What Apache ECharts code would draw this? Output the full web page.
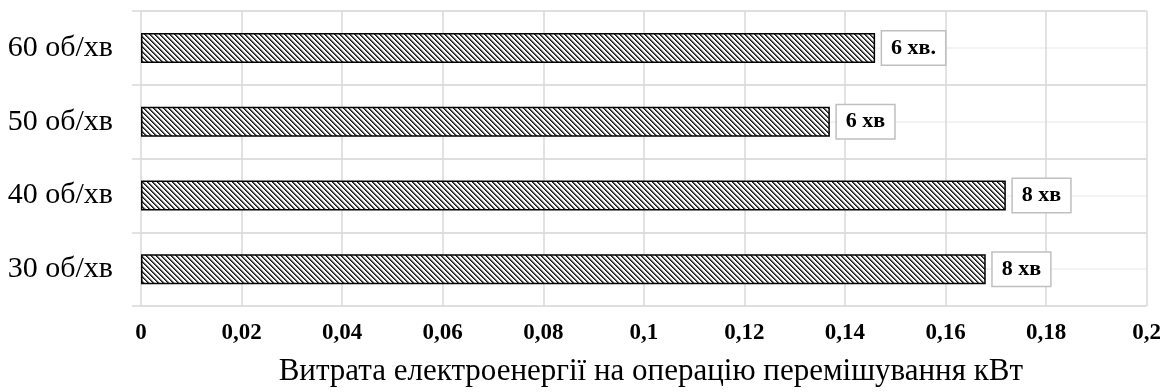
<!DOCTYPE html>
<html>
<head>
<meta charset="utf-8">
<script src="https://cdn.jsdelivr.net/npm/echarts@6/dist/echarts.min.js"></script>
<style>
    html, body { margin: 0; padding: 0; background: #fff; }
    #chart { width: 1164px; height: 392px; }
</style>
</head>
<body>
<div id="chart"></div>
<script>
'use strict';
// категорії (знизу вгору)
var categories = ['30 об/хв', '40 об/хв', '50 об/хв', '60 об/хв'];
// витрата електроенергії, кВт
var values = [0.168, 0.172, 0.137, 0.146];
// підписи тривалості
var durations = ['8 хв', '8 хв', '6 хв', '6 хв.'];
var xTicks = [0, 0.02, 0.04, 0.06, 0.08, 0.1, 0.12, 0.14, 0.16, 0.18, 0.2];

// штрихування для стовпців
function makeHatch() {
    var size = 10;
    var cv = document.createElement('canvas');
    cv.width = size;
    cv.height = size;
    var ctx = cv.getContext('2d');
    var img = ctx.createImageData(size, size);
    for (var y = 0; y < size; y++) {
        for (var x = 0; x < size; x++) {
            var k = ((x - y) % 5 + 5) % 5;
            var c = k === 0 ? 25 : (k === 1 ? 90 : (k === 2 ? 200 : 255));
            var i = (y * size + x) * 4;
            img.data[i] = c;
            img.data[i + 1] = c;
            img.data[i + 2] = c;
            img.data[i + 3] = 255;
        }
    }
    ctx.putImageData(img, 0, 0);
    return cv;
}

var serif = '"Liberation Serif", "Times New Roman", serif';
var chart = echarts.init(document.getElementById('chart'));

var option = {
    animation: false,
    grid: {
        left: 141,
        right: 17,
        top: 11,
        bottom: 84,
        containLabel: false
    },
    xAxis: {
        type: 'value',
        min: xTicks[0],
        max: xTicks[xTicks.length - 1],
        interval: 0.02,
        axisLine: { show: false },
        axisTick: { show: false },
        splitLine: { show: true, lineStyle: { color: '#d9d9d9', width: 1.5 } },
        axisLabel: {
            margin: 16,
            fontFamily: serif,
            fontWeight: 'bold',
            fontSize: 23,
            color: '#000',
            formatter: function (v) {
                return String(Math.round(v * 100) / 100).replace('.', ',');
            }
        },
        name: 'Витрата електроенергії на операцію перемішування кВт',
        nameLocation: 'middle',
        nameGap: 50,
        nameTextStyle: {
            fontFamily: serif,
            fontSize: 31,
            color: '#000',
            padding: [0, 0, 0, 14]
        }
    },
    yAxis: [{
            // світлі лінії по центру категорій
            type: 'value',
            min: 0,
            max: 8,
            interval: 1,
            axisLine: { show: false },
            axisTick: { show: false },
            axisLabel: { show: false },
            splitLine: { show: true, lineStyle: { color: '#efefef', width: 1.5 } }
        },
        {
            type: 'category',
            data: categories,
            position: 'left',
            axisLine: { show: false },
            axisTick: { show: true, length: 9, lineStyle: { color: '#d9d9d9', width: 1.5 } },
            splitLine: { show: true, lineStyle: { color: '#d9d9d9', width: 1.5 } },
            axisLabel: {
                margin: 28,
                fontFamily: serif,
                fontSize: 30,
                color: '#000'
            }
        }
    ],
    series: [{
        type: 'bar',
        yAxisIndex: 1,
        data: values,
        barWidth: 30,
        itemStyle: {
            color: { image: makeHatch(), repeat: 'repeat' },
            borderColor: '#000',
            borderWidth: 1.5
        },
        label: {
            show: true,
            position: 'right',
            distance: 7,
            formatter: function (p) {
                return durations[p.dataIndex];
            },
            fontFamily: serif,
            fontWeight: 'bold',
            fontSize: 22,
            color: '#000',
            backgroundColor: '#fff',
            borderColor: '#bfbfbf',
            borderWidth: 1.5,
            padding: [6, 9, 5, 9]
        }
    }]
};
chart.setOption(option);
</script>
</body>
</html>
